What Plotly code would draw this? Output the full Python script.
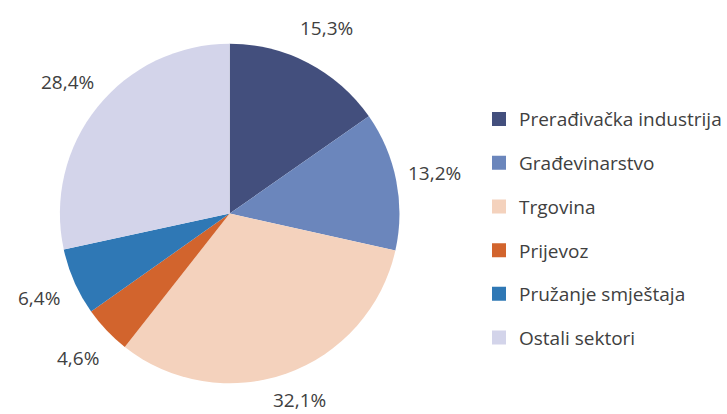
import math
import plotly.graph_objects as go

sectors = ["Prerađivačka industrija", "Građevinarstvo", "Trgovina",
           "Prijevoz", "Pružanje smještaja", "Ostali sektori"]
shares = [15.3, 13.2, 32.1, 4.6, 6.4, 28.4]
colors = ["#434f7d", "#6b86bc", "#f4d2bd", "#d2642d", "#2f78b5", "#d3d4ea"]

W, H = 727, 414
dom_x = [0.0825, 0.5502]
dom_y = [0.0725, 0.896]

fig = go.Figure()
fig.add_trace(go.Pie(
    labels=sectors, values=shares, sort=False, direction="clockwise",
    rotation=0, marker=dict(colors=colors, line=dict(width=0)),
    textinfo="none", showlegend=False, hoverinfo="label+value",
    domain=dict(x=dom_x, y=dom_y),
))

# percentage labels set a little outside the rim, at each slice's mid-angle,
# kept inside the canvas vertically
cx = (dom_x[0] + dom_x[1]) / 2 * W
cy = (dom_y[0] + dom_y[1]) / 2 * H
radius = min((dom_x[1] - dom_x[0]) * W, (dom_y[1] - dom_y[0]) * H) / 2
label_r = radius * 1.23
edge = 14
total = sum(shares)
start = 0.0
for v in shares:
    mid = (start + v / 2) / total * 2 * math.pi
    start += v
    lx = cx + label_r * math.sin(mid)
    ly = min(max(cy + label_r * math.cos(mid), edge), H - edge)
    fig.add_annotation(
        x=lx / W, y=ly / H, xref="paper", yref="paper",
        text=f"{v:.1f}%".replace(".", ","), showarrow=False,
        xanchor="center", yanchor="middle",
        font=dict(size=19, color="#404040", family="Open Sans"),
    )

# legend entries, one group each so the gap between them can be set
for name, col in zip(sectors, colors):
    fig.add_trace(go.Scatter(
        x=[None], y=[None], mode="markers", name=name, legendgroup=name,
        marker=dict(symbol="square", size=14, color=col),
    ))

fig.update_layout(
    width=W, height=H,
    margin=dict(l=0, r=0, t=0, b=0),
    paper_bgcolor="white", plot_bgcolor="white",
    xaxis=dict(visible=False), yaxis=dict(visible=False),
    legend=dict(x=0.66, y=0.758, xanchor="left", yanchor="top",
                tracegroupgap=16, itemwidth=30,
                font=dict(size=19, color="#404040", family="Open Sans")),
)
fig.write_html("out.html")
